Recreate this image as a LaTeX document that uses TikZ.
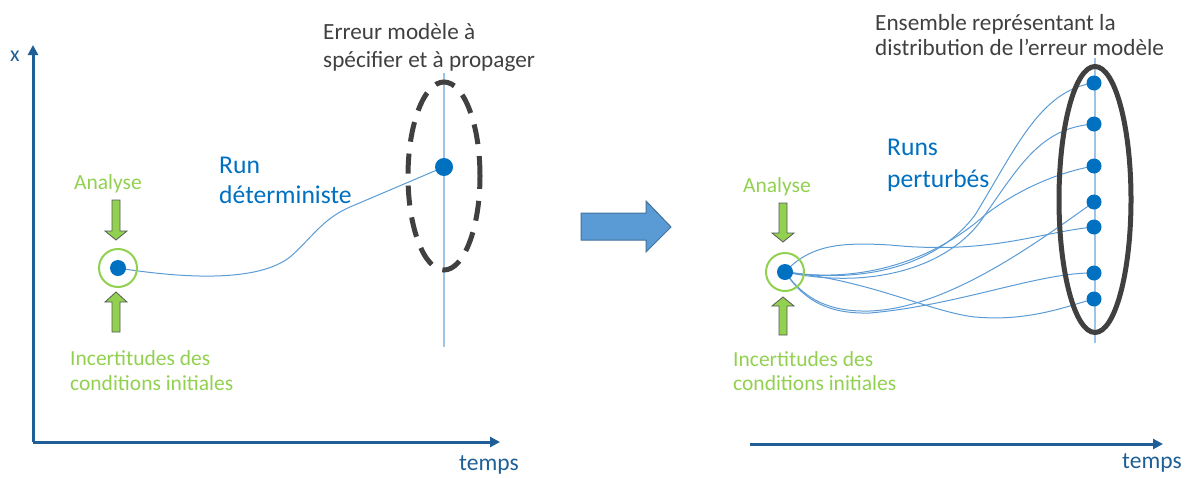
\documentclass[tikz,border=0pt]{standalone}
\usepackage{fontspec}
\setmainfont{Carlito}
\usetikzlibrary{arrows.meta}
\definecolor{axisblue}{RGB}{31,95,150}
\definecolor{dotblue}{RGB}{0,112,192}
\definecolor{lineblue}{RGB}{91,155,213}
\definecolor{vblue}{RGB}{157,195,230}
\definecolor{grn}{RGB}{146,208,80}
\definecolor{dgray}{RGB}{64,64,64}
\definecolor{agray}{RGB}{89,89,89}
\definecolor{arrfill}{RGB}{91,155,213}
\definecolor{arrdraw}{RGB}{65,113,156}
\begin{document}
\begin{tikzpicture}[x=1pt,y=-1pt,
  axisline/.style={draw=axisblue,line width=3pt,-{Triangle[length=10pt,width=10pt]}},
  axistext/.style={text=axisblue,font=\fontsize{23.5}{28}\selectfont,anchor=base west,inner sep=0},
  graytext/.style={text=dgray,font=\fontsize{23.2}{28}\selectfont,anchor=base west,inner sep=0},
  bluetext/.style={text=dotblue,font=\fontsize{25.6}{30}\selectfont,anchor=base west,inner sep=0},
  greentext/.style={text=grn,font=\fontsize{21.5}{24}\selectfont,anchor=base west,inner sep=0},
  dot/.style={circle,fill=dotblue,inner sep=0,minimum size=#1},
  dot/.default=16pt,
  ring/.style={circle,draw=grn,line width=2pt,inner sep=0,minimum size=38pt},
  run/.style={draw=lineblue,line width=1pt},
  vline/.style={draw=vblue,line width=1.5pt},
  garrow/.style={fill=grn,draw=agray,line width=0.8pt,line join=miter},
  dashell/.style={draw=dgray,line width=5pt,dash pattern=on 20pt off 12pt},
  solidell/.style={draw=dgray,line width=5pt}
]
\useasboundingbox (0,0) rectangle (1191,477);

% ---------- left panel ----------
\coordinate (o1) at (33,442);
\coordinate (ytop) at (33,45);
\coordinate (xend1) at (500,442);
\draw[axisline] (o1) -- (ytop);
\draw[axisline] (o1) -- (xend1);
\node[axistext,font=\fontsize{22}{24}\selectfont] (xlab) at (10,61) {x};
\node[axistext] (t1) at (459,470) {temps};

\coordinate (vl1a) at (444,73);
\coordinate (vl1b) at (444,347);
\draw[vline] (vl1a) -- (vl1b);

\coordinate (p0) at (118,268);
\coordinate (p1) at (444,167);
\draw[run] (p0) .. controls (200,281) and (262,279) .. (290,257)
  .. controls (310,240) and (322,219) .. (350,207) -- (p1);

\node[ring] (ring1) at (p0) {};
\node[dot] (d0) at (p0) {};
\node[dot=18pt] (d1) at (p1) {};

\coordinate (ell1) at (444,176);
\draw[dashell] (ell1) ellipse [x radius=36pt, y radius=94pt];

% green arrows left
\draw[garrow] (112,200) -- (120,200) -- (120,231) -- (127,231) -- (116,240) -- (105,231) -- (112,231) -- cycle;
\draw[garrow] (112,332) -- (120,332) -- (120,302) -- (127,302) -- (116,292) -- (105,302) -- (112,302) -- cycle;

\node[greentext] (an1) at (74,189) {Analyse};
\node[greentext] (inc1a) at (70,365) {Incertitudes des};
\node[greentext] (inc1b) at (70,390) {conditions initiales};

\node[bluetext] (run1a) at (219,173) {Run};
\node[bluetext] (run1b) at (219,203) {déterministe};

\node[graytext] (err1a) at (323,39) {Erreur modèle à};
\node[graytext] (err1b) at (323,67) {spécifier et à propager};

% ---------- big arrow ----------
\draw[fill=arrfill,draw=arrdraw,line width=1pt] (581,213) -- (646,213) -- (646,201) -- (671,227) -- (646,252) -- (646,240) -- (581,240) -- cycle;

% ---------- right panel ----------
\coordinate (o2) at (750,444);
\coordinate (xend2) at (1163,444);
\draw[axisline] (o2) -- (xend2);
\node[axistext] (t2) at (1122,468) {temps};

\coordinate (vl2a) at (1095,58);
\coordinate (vl2b) at (1095,343);
\draw[vline] (vl2a) -- (vl2b);

\coordinate (h) at (785,272);
\coordinate (e1) at (1094,83);
\coordinate (e2) at (1094,124);
\coordinate (e3) at (1094,166);
\coordinate (e4) at (1094,202);
\coordinate (e5) at (1094,227);
\coordinate (e6) at (1094,273);
\coordinate (e7) at (1094,299);

\draw[run] (h) .. controls (870,285) and (940,262) .. (975,215) .. controls (1015,150) and (1040,90) .. (e1);
\draw[run] (h) .. controls (870,290) and (945,268) .. (980,222) .. controls (1020,165) and (1040,128) .. (e2);
\draw[run] (h) .. controls (870,285) and (940,255) .. (985,215) .. controls (1020,188) and (1060,172) .. (e3);
\draw[run] (h) .. controls (805,300) and (830,312) .. (870,311) .. controls (950,308) and (1040,240) .. (e4);
\draw[run] (h) .. controls (810,245) and (840,242) .. (890,245) .. controls (990,255) and (1040,232) .. (e5);
\draw[run] (h) .. controls (805,302) and (830,314) .. (870,313) .. controls (960,305) and (1040,272) .. (e6);
\draw[run] (h) .. controls (870,280) and (930,312) .. (975,317) .. controls (1030,322) and (1070,305) .. (e7);

\node[ring] (ring2) at (h) {};
\node[dot] (dh) at (h) {};
\foreach \i in {1,...,7} {\node[dot=15pt] (de\i) at (e\i) {};}

\coordinate (ell2) at (1095,199.5);
\draw[solidell] (ell2) ellipse [x radius=36pt, y radius=133pt];

% green arrows right
\draw[garrow] (779,203) -- (787,203) -- (787,233) -- (794,233) -- (783,242) -- (772,233) -- (779,233) -- cycle;
\draw[garrow] (779,335) -- (787,335) -- (787,306) -- (794,306) -- (783,297) -- (772,306) -- (779,306) -- cycle;

\node[greentext] (an2) at (743,192) {Analyse};
\node[greentext] (inc2a) at (733,366) {Incertitudes des};
\node[greentext] (inc2b) at (733,390) {conditions initiales};

\node[bluetext] (run2a) at (887,155) {Runs};
\node[bluetext] (run2b) at (887,187) {perturbés};

\node[graytext] (ens1) at (875,30) {Ensemble représentant la};
\node[graytext] (ens2) at (875,55) {distribution de l’erreur modèle};
\end{tikzpicture}
\end{document}
